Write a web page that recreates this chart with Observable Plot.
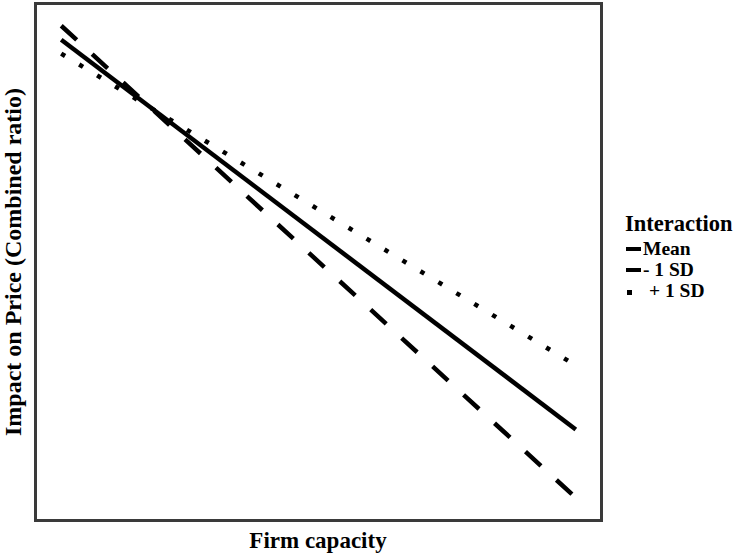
<!DOCTYPE html>
<html>
<head>
<meta charset="utf-8">
<script src="https://cdn.jsdelivr.net/npm/d3@7"></script>
<script src="https://cdn.jsdelivr.net/npm/@observablehq/plot@0.6"></script>
<style>
  html, body { margin: 0; padding: 0; background: #fff; }
  #wrap { position: relative; width: 737px; height: 553px; font-family: "Liberation Serif", "Times New Roman", serif; font-weight: bold; color: #000; }
  #wrap > svg.chart { position: absolute; left: 0; top: 0; }
  .xlab { position: absolute; left: 35px; width: 566px; top: 528.7px; text-align: center; font-size: 23px; line-height: 23px; }
  .ylab { position: absolute; left: 13px; top: 261.5px; transform: translate(-50%, -50%) rotate(-90deg); white-space: nowrap; font-size: 24px; line-height: 24px; }
  .legend { position: absolute; left: 625px; top: 210.4px; }
  .legend .title { font-size: 22.5px; line-height: 28px; height: 28px; white-space: nowrap; }
  .legend .item { display: flex; align-items: center; font-size: 19.5px; line-height: 21px; height: 21px; white-space: nowrap; }
  .legend .item svg { display: block; margin-right: 2px; }
</style>
</head>
<body>
<div id="wrap"></div>
<script>
// Data
const capacity = [-1, 1];                 // Firm capacity (low → high)
const meanVals = [9.30, 1.76];            // Interaction = Mean
const minusVals = [9.57, 0.44];           // Interaction = - 1 SD
const plusVals = [9.03, 3.00];            // Interaction = + 1 SD
const seriesNames = ["Mean", "- 1 SD", "+ 1 SD"];
const dashes = {"Mean": null, "- 1 SD": "21,21", "+ 1 SD": "4.5,16.5"};

const rows = [];
[meanVals, minusVals, plusVals].forEach((vals, i) => {
  vals.forEach((v, j) => rows.push({series: seriesNames[i], x: capacity[j], y: v}));
});

const chart = Plot.plot({
  width: 737,
  height: 553,
  marginLeft: 35,
  marginRight: 136,
  marginTop: 3,
  marginBottom: 33,
  x: {domain: [-1.1, 1.1], axis: null},
  y: {domain: [0, 10], axis: null},
  marks: [
    Plot.frame({stroke: "#3a3a3a", strokeWidth: 3}),
    ...seriesNames.map(s => Plot.line(rows.filter(d => d.series === s), {
      x: "x", y: "y", stroke: "#000", strokeWidth: 4.5,
      strokeDasharray: dashes[s], strokeLinecap: "butt"
    }))
  ]
});
chart.classList.add("chart");

const wrap = document.getElementById("wrap");
wrap.appendChild(chart);

const xl = document.createElement("div");
xl.className = "xlab"; xl.textContent = "Firm capacity";
wrap.appendChild(xl);
const yl = document.createElement("div");
yl.className = "ylab"; yl.textContent = "Impact on Price (Combined ratio)";
wrap.appendChild(yl);

const lg = document.createElement("div");
lg.className = "legend";
lg.innerHTML = `<div class="title">Interaction</div>` + seriesNames.map(s => {
  const sw = s === "+ 1 SD"
    ? `<svg width="16" height="10"><rect x="2" y="4" width="5" height="5" fill="#000"/></svg>`
    : `<svg width="16" height="10"><line x1="1" x2="16" y1="5" y2="5" stroke="#000" stroke-width="4"/></svg>`;
  const pad = s === "+ 1 SD" ? "margin-left:6px" : "";
  return `<div class="item">${sw}<span style="${pad}">${s}</span></div>`;
}).join("");
wrap.appendChild(lg);
</script>
</body>
</html>
